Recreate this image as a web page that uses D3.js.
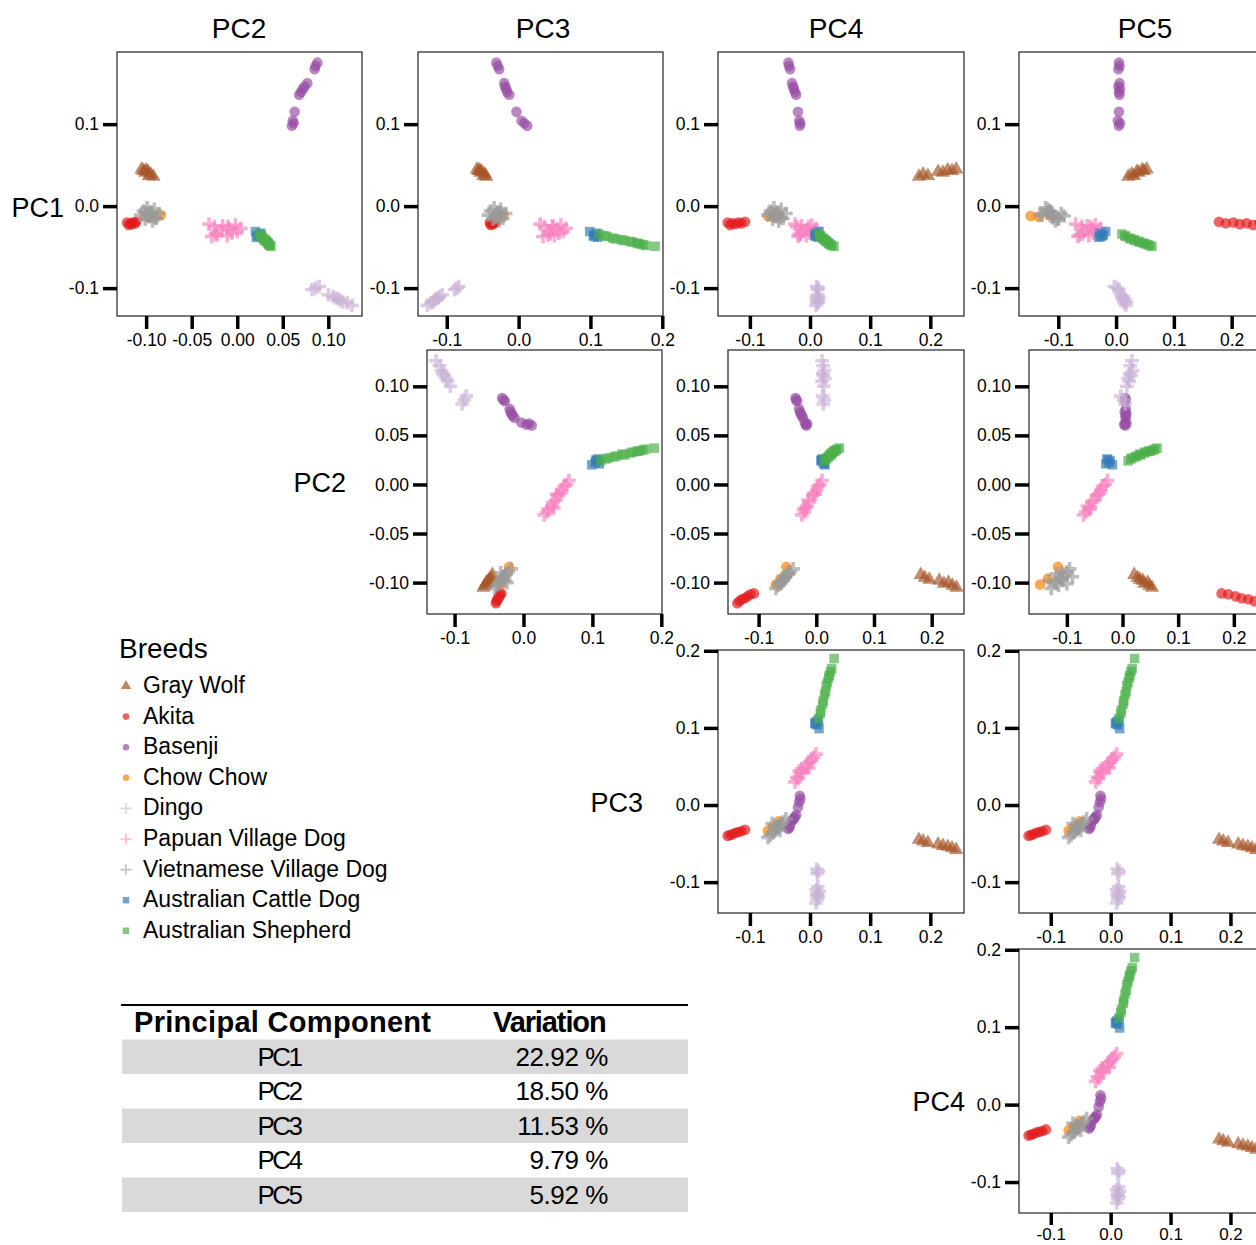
<!DOCTYPE html>
<html>
<head>
<meta charset="utf-8">
<script src="https://cdn.jsdelivr.net/npm/d3@7"></script>
<style>
  body { margin: 0; background: #fff; font-family: 'Liberation Sans', Arial, sans-serif; }
  svg text { font-family: 'Liberation Sans', Arial, sans-serif; }
</style>
</head>
<body>
<svg id="svg" width="1256" height="1245"></svg>
<script>
// ---- data: principal component scores per dog, [PC1, PC2, PC3, PC4, PC5] ----
var grayWolf = [
  [0.036, -0.092, -0.045, 0.181, 0.021],
  [0.039, -0.095, -0.047, 0.188, 0.027],
  [0.037, -0.097, -0.049, 0.196, 0.031],
  [0.042, -0.098, -0.051, 0.213, 0.036],
  [0.041, -0.101, -0.053, 0.221, 0.039],
  [0.044, -0.100, -0.054, 0.229, 0.045],
  [0.043, -0.103, -0.056, 0.236, 0.048],
  [0.045, -0.105, -0.058, 0.243, 0.053]
];
var akita = [
  [-0.019, -0.111, -0.032, -0.108, 0.178],
  [-0.021, -0.112, -0.034, -0.114, 0.190],
  [-0.020, -0.114, -0.035, -0.119, 0.203],
  [-0.022, -0.116, -0.036, -0.124, 0.214],
  [-0.021, -0.117, -0.038, -0.129, 0.226],
  [-0.023, -0.119, -0.039, -0.133, 0.237],
  [-0.020, -0.121, -0.040, -0.137, 0.249]
];
var basenji = [
  [0.175, 0.088, -0.031, -0.036, 0.005],
  [0.171, 0.086, -0.029, -0.035, 0.006],
  [0.167, 0.085, -0.027, -0.033, 0.004],
  [0.150, 0.077, -0.020, -0.030, 0.006],
  [0.146, 0.074, -0.019, -0.028, 0.004],
  [0.143, 0.072, -0.017, -0.027, 0.007],
  [0.139, 0.070, -0.016, -0.025, 0.005],
  [0.136, 0.068, -0.013, -0.023, 0.006],
  [0.115, 0.063, -0.003, -0.020, 0.005],
  [0.104, 0.061, 0.004, -0.018, 0.003],
  [0.101, 0.062, 0.008, -0.016, 0.007],
  [0.098, 0.060, 0.012, -0.017, 0.005]
];
var chowChow = [
  [-0.011, -0.084, -0.021, -0.052, -0.116],
  [-0.013, -0.096, -0.028, -0.062, -0.134],
  [-0.012, -0.102, -0.033, -0.070, -0.148]
];
var dingo = [
  [-0.098, 0.090, -0.083, 0.011, -0.003],
  [-0.100, 0.086, -0.086, 0.014, 0.002],
  [-0.102, 0.082, -0.089, 0.012, 0.005],
  [-0.108, 0.100, -0.106, 0.013, 0.008],
  [-0.110, 0.105, -0.110, 0.010, 0.012],
  [-0.112, 0.108, -0.112, 0.015, 0.010],
  [-0.113, 0.111, -0.115, 0.012, 0.015],
  [-0.115, 0.113, -0.117, 0.011, 0.013],
  [-0.117, 0.116, -0.119, 0.014, 0.018],
  [-0.118, 0.121, -0.122, 0.012, 0.014],
  [-0.121, 0.126, -0.127, 0.010, 0.017]
];
var papuanVillageDog = [
  [-0.022, -0.031, 0.030, -0.025, -0.070],
  [-0.037, -0.028, 0.034, -0.020, -0.066],
  [-0.025, -0.025, 0.036, -0.022, -0.059],
  [-0.035, -0.022, 0.041, -0.016, -0.063],
  [-0.030, -0.018, 0.043, -0.012, -0.055],
  [-0.024, -0.016, 0.047, -0.014, -0.050],
  [-0.036, -0.011, 0.050, -0.006, -0.047],
  [-0.028, -0.009, 0.054, -0.004, -0.041],
  [-0.033, -0.006, 0.056, 0.000, -0.039],
  [-0.023, -0.002, 0.059, 0.003, -0.036],
  [-0.031, 0.000, 0.062, 0.006, -0.031],
  [-0.027, 0.004, 0.066, 0.010, -0.027],
  [-0.034, -0.024, 0.044, -0.018, -0.058],
  [-0.025, -0.010, 0.048, -0.002, -0.044]
];
var vietnameseVillageDog = [
  [-0.009, -0.086, -0.018, -0.040, -0.095],
  [-0.015, -0.089, -0.022, -0.045, -0.100],
  [-0.004, -0.091, -0.025, -0.048, -0.118],
  [-0.018, -0.093, -0.027, -0.052, -0.105],
  [-0.007, -0.095, -0.029, -0.055, -0.112],
  [-0.013, -0.097, -0.031, -0.057, -0.108],
  [-0.002, -0.099, -0.034, -0.060, -0.122],
  [-0.016, -0.101, -0.036, -0.062, -0.100],
  [-0.006, -0.103, -0.039, -0.066, -0.115],
  [-0.011, -0.106, -0.042, -0.070, -0.128],
  [-0.012, -0.094, -0.030, -0.054, -0.090],
  [-0.010, -0.098, -0.027, -0.058, -0.132],
  [-0.014, -0.090, -0.033, -0.050, -0.110],
  [-0.008, -0.100, -0.024, -0.063, -0.119]
];
var australianCattleDog = [
  [-0.033, 0.026, 0.108, 0.010, -0.028],
  [-0.036, 0.022, 0.104, 0.012, -0.024],
  [-0.035, 0.024, 0.106, 0.008, -0.022],
  [-0.038, 0.021, 0.110, 0.014, -0.030],
  [-0.031, 0.020, 0.099, 0.015, -0.018],
  [-0.037, 0.025, 0.105, 0.009, -0.026]
];
var australianShepherd = [
  [-0.034, 0.024, 0.112, 0.014, 0.010],
  [-0.036, 0.026, 0.119, 0.017, 0.015],
  [-0.037, 0.027, 0.123, 0.018, 0.017],
  [-0.039, 0.028, 0.131, 0.021, 0.023],
  [-0.040, 0.029, 0.135, 0.022, 0.026],
  [-0.041, 0.031, 0.143, 0.024, 0.031],
  [-0.042, 0.030, 0.147, 0.026, 0.033],
  [-0.043, 0.032, 0.155, 0.027, 0.039],
  [-0.044, 0.033, 0.159, 0.029, 0.041],
  [-0.045, 0.034, 0.165, 0.031, 0.047],
  [-0.046, 0.034, 0.168, 0.032, 0.050],
  [-0.047, 0.035, 0.173, 0.034, 0.055],
  [-0.048, 0.036, 0.177, 0.036, 0.058],
  [-0.049, 0.037, 0.190, 0.040, 0.062]
];

var breeds = ["Gray Wolf", "Akita", "Basenji", "Chow Chow", "Dingo", "Papuan Village Dog",
              "Vietnamese Village Dog", "Australian Cattle Dog", "Australian Shepherd"];
var breedScores = [grayWolf, akita, basenji, chowChow, dingo, papuanVillageDog,
                   vietnameseVillageDog, australianCattleDog, australianShepherd];
var breedColors = ["#A65628", "#E41A1C", "#984EA3", "#FF7F00", "#CAB2D6", "#F781BF",
                   "#999999", "#377EB8", "#4DAF4A"];
var breedShapes = ["triangle", "circle", "circle", "circle", "plus", "plus", "plus", "square", "square"];

var pcNames = ["PC1", "PC2", "PC3", "PC4", "PC5"];
var pcDomains = [[-0.134, 0.188], [-0.132, 0.137], [-0.140, 0.201], [-0.153, 0.256], [-0.168, 0.256]];
var pcTicks = [[-0.1, 0, 0.1], [-0.1, -0.05, 0, 0.05, 0.1], [-0.1, 0, 0.1, 0.2], [-0.1, 0, 0.1, 0.2], [-0.1, 0, 0.1, 0.2]];
var pcDigits = [1, 2, 1, 1, 1];
var variation = [22.92, 18.50, 11.53, 9.79, 5.92];

// ---- layout ----
var svg = d3.select("svg");
var rowBox = [[52, 316], [350, 614], [650, 913], [949, 1213]];
// xi / yi index into pcNames; the last two panels repeat the PC3~PC4 view as in the original figure
var panels = [
  {xi: 1, yi: 0, row: 0, x0: 117, x1: 362},
  {xi: 2, yi: 0, row: 0, x0: 418, x1: 663},
  {xi: 3, yi: 0, row: 0, x0: 718, x1: 964},
  {xi: 4, yi: 0, row: 0, x0: 1019, x1: 1264},
  {xi: 2, yi: 1, row: 1, x0: 427, x1: 662},
  {xi: 3, yi: 1, row: 1, x0: 728, x1: 964},
  {xi: 4, yi: 1, row: 1, x0: 1029, x1: 1265},
  {xi: 3, yi: 2, row: 2, x0: 718, x1: 964},
  {xi: 3, yi: 2, row: 2, x0: 1019, x1: 1264},
  {xi: 3, yi: 2, row: 3, x0: 1019, x1: 1264}
];
var colTitles = [{t: "PC2", x: 239}, {t: "PC3", x: 543}, {t: "PC4", x: 836}, {t: "PC5", x: 1145}];
var rowTitles = [{t: "PC1", x: 64, y: 208}, {t: "PC2", x: 346, y: 483}, {t: "PC3", x: 643, y: 803}, {t: "PC4", x: 965, y: 1102}];

function symbolPath(shape, s) {
  if (shape === "plus") return "M" + (-s) + ",0H" + s + "M0," + (-s) + "V" + s;
  if (shape === "triangle") return d3.symbol(d3.symbolTriangle, s * s * 1.15)();
  if (shape === "square") return d3.symbol(d3.symbolSquare, s * s)();
  return d3.symbol(d3.symbolCircle, s * s * 0.8)();
}
var markSize = {triangle: 8.8, circle: 10.5, square: 9.5, plus: 6.8};

function styleAxis(ax) {
  ax.select(".domain").remove();
  ax.selectAll(".tick line").attr("stroke", "#000").attr("stroke-width", 3.5);
  ax.selectAll(".tick text").attr("font-size", 17.5).attr("fill", "#000")
    .attr("font-family", "'Liberation Sans', Arial, sans-serif");
}

panels.forEach(function(p) {
  var top = rowBox[p.row][0], bottom = rowBox[p.row][1];
  var x = d3.scaleLinear().domain(pcDomains[p.xi]).range([p.x0, p.x1]);
  var y = d3.scaleLinear().domain(pcDomains[p.yi]).range([bottom, top]);
  var g = svg.append("g");

  breedScores.forEach(function(pts, bi) {
    var shape = breedShapes[bi];
    var d = symbolPath(shape, markSize[shape]);
    var sel = g.selectAll(null).data(pts).enter().append("path")
      .attr("d", d)
      .attr("transform", function(v) { return "translate(" + x(v[p.xi]) + "," + y(v[p.yi]) + ")"; });
    if (shape === "plus") {
      sel.attr("fill", "none").attr("stroke", breedColors[bi]).attr("stroke-width", 3.6).attr("stroke-opacity", 0.65);
    } else {
      sel.attr("fill", breedColors[bi]).attr("fill-opacity", 0.68);
    }
  });

  g.append("rect").attr("x", p.x0).attr("y", top)
    .attr("width", p.x1 - p.x0).attr("height", bottom - top)
    .attr("fill", "none").attr("stroke", "#333").attr("stroke-width", 1.3);

  // the lowest row sits right at the page edge, so its labels get a little less room
  var lastRow = p.row === rowBox.length - 1;
  g.append("g").attr("transform", "translate(0," + bottom + ")")
    .call(d3.axisBottom(x).tickValues(pcTicks[p.xi]).tickSize(lastRow ? 12 : 13).tickPadding(lastRow ? 3 : 5)
      .tickFormat(function(v) { return v.toFixed(pcDigits[p.xi]); }))
    .call(styleAxis)
    .call(function(ax) { if (lastRow) ax.selectAll(".tick text").attr("font-size", 17); });
  g.append("g").attr("transform", "translate(" + p.x0 + ",0)")
    .call(d3.axisLeft(y).tickValues(pcTicks[p.yi]).tickSize(14).tickPadding(4)
      .tickFormat(function(v) { return v.toFixed(pcDigits[p.yi]); }))
    .call(styleAxis);
});

svg.selectAll(".coltitle").data(colTitles).enter().append("text")
  .attr("x", function(d) { return d.x; }).attr("y", 28).attr("dy", "0.35em")
  .attr("text-anchor", "middle").attr("font-size", 28).text(function(d) { return d.t; });
svg.selectAll(".rowtitle").data(rowTitles).enter().append("text")
  .attr("x", function(d) { return d.x; }).attr("y", function(d) { return d.y; }).attr("dy", "0.35em")
  .attr("text-anchor", "end").attr("font-size", 27).text(function(d) { return d.t; });

// ---- legend ----
var legend = svg.append("g");
legend.append("text").attr("x", 119).attr("y", 648).attr("dy", "0.35em")
  .attr("font-size", 28).text("Breeds");
breeds.forEach(function(b, i) {
  var cy = 685 + i * 30.6;
  var shape = breedShapes[i];
  var sym = legend.append("path")
    .attr("d", symbolPath(shape, shape === "plus" ? 5.5 : 6.5))
    .attr("transform", "translate(126," + (cy + 1) + ")");
  if (shape === "plus") sym.attr("fill", "none").attr("stroke", breedColors[i]).attr("stroke-width", 1.6).attr("stroke-opacity", 0.6);
  else sym.attr("fill", breedColors[i]).attr("fill-opacity", 0.7);
  legend.append("text").attr("x", 143).attr("y", cy).attr("dy", "0.35em")
    .attr("font-size", 23).text(b);
});

// ---- variation table ----
var table = svg.append("g");
table.append("line").attr("x1", 121).attr("x2", 688).attr("y1", 1005).attr("y2", 1005)
  .attr("stroke", "#000").attr("stroke-width", 2);
table.append("text").attr("x", 134).attr("y", 1022).attr("dy", "0.35em")
  .attr("font-size", 29).attr("font-weight", "bold").attr("letter-spacing", 0.3).text("Principal Component");
table.append("text").attr("x", 493).attr("y", 1022).attr("dy", "0.35em")
  .attr("font-size", 29).attr("font-weight", "bold").attr("letter-spacing", -1.1).text("Variation");
var rowH = 34.5;
variation.forEach(function(v, i) {
  var ry = 1039.5 + i * rowH;
  if (i % 2 === 0) {
    table.append("rect").attr("x", 122).attr("y", ry).attr("width", 566).attr("height", rowH).attr("fill", "#d9d9d9");
  }
  table.append("text").attr("x", 279).attr("y", ry + rowH / 2).attr("dy", "0.35em")
    .attr("text-anchor", "middle").attr("font-size", 26).attr("letter-spacing", -2.5).text(pcNames[i]);
  table.append("text").attr("x", 608).attr("y", ry + rowH / 2).attr("dy", "0.35em")
    .attr("text-anchor", "end").attr("font-size", 26).attr("letter-spacing", -0.4).text(v.toFixed(2) + " %");
});
</script>
</body>
</html>
